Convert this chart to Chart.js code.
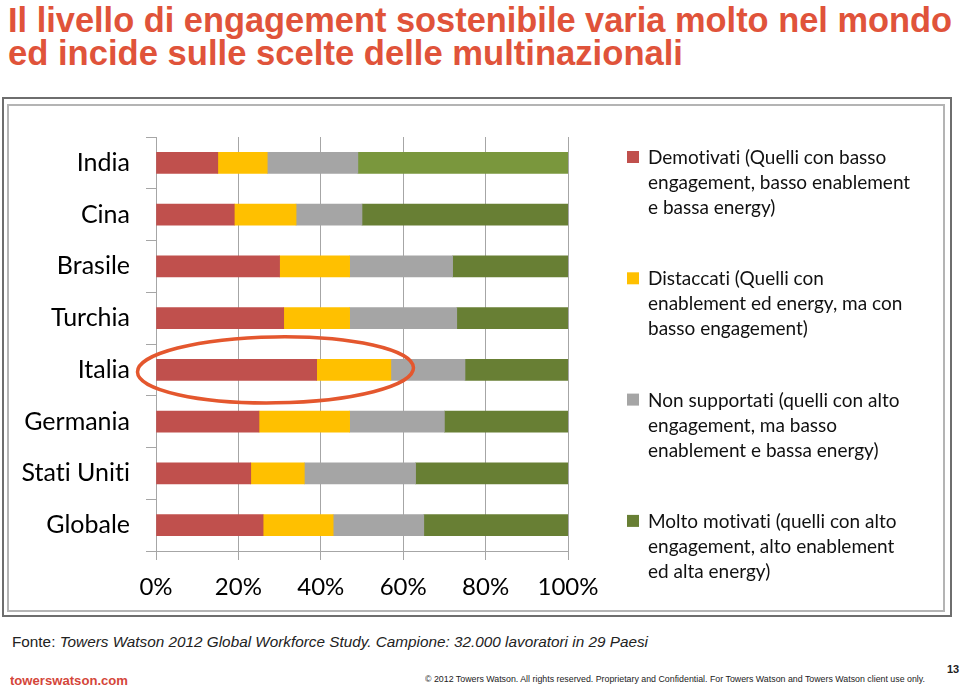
<!DOCTYPE html>
<html lang="it">
<head>
<meta charset="utf-8">
<title>Engagement sostenibile</title>
<script src="https://cdn.jsdelivr.net/npm/chart.js@4.4.1/dist/chart.umd.min.js"></script>
<style>
  html, body { margin: 0; padding: 0; background: #fff; }
  body { width: 960px; height: 689px; position: relative; overflow: hidden; font-family: "Liberation Sans", Arial, sans-serif; }
  .riga { position: absolute; white-space: nowrap; line-height: 1; transform-origin: 0 0; }
  .titolo { font-weight: bold; font-size: 35px; color: #E0533A; left: 8px; }
  .box-esterno { position: absolute; left: 2px; top: 97px; width: 946px; height: 516px; border: 2px solid #6E6E6E; }
  .box-interno { position: absolute; left: 7px; top: 104px; width: 934px; height: 504px; border: 2px solid #B4B4B4; }
  #grafico { position: absolute; left: 9px; top: 106px; }
</style>
</head>
<body>
<span class="riga titolo" style="top:2px" data-w="944">Il livello di engagement sostenibile varia molto nel mondo</span>
<span class="riga titolo" style="top:35px" data-w="675">ed incide sulle scelte delle multinazionali</span>

<div class="box-esterno"></div>
<div class="box-interno"></div>
<canvas id="grafico" width="932" height="502"></canvas>

<span class="riga" style="left:12px; top:634px; font-size:15px; color:#222" data-w="636">Fonte: <i>Towers Watson 2012 Global Workforce Study. Campione: 32.000 lavoratori in 29 Paesi</i></span>
<span class="riga" style="left:10px; top:674px; font-size:13px; font-weight:bold; color:#D4463A" data-w="118">towerswatson.com</span>
<span class="riga" style="left:425px; top:674px; font-size:9.5px; color:#222" data-w="500">© 2012 Towers Watson. All rights reserved. Proprietary and Confidential. For Towers Watson and Towers Watson client use only.</span>
<span class="riga" style="left:947px; top:664px; font-size:11px; font-weight:bold; color:#222">13</span>

<script>
// dati (percentuali)
const categorie = ['India', 'Cina', 'Brasile', 'Turchia', 'Italia', 'Germania', 'Stati Uniti', 'Globale'];
const demotivati = [15, 19, 30, 31, 39, 25, 23, 26];
const distaccati = [12, 15, 17, 16, 18, 22, 13, 17];
const nonSupportati = [22, 16, 25, 26, 18, 23, 27, 22];
const moltoMotivati = [51, 50, 28, 27, 25, 30, 37, 35];
const tickAsseX = [0, 20, 40, 60, 80, 100];

// testi della legenda, già spezzati in righe
const legendaRighe = [
  ['Demotivati (Quelli con basso', 'engagement, basso enablement', 'e bassa energy)'],
  ['Distaccati (Quelli con', 'enablement ed energy, ma con', 'basso engagement)'],
  ['Non supportati (quelli con alto', 'engagement, ma basso', 'enablement e bassa energy)'],
  ['Molto motivati (quelli con alto', 'engagement, alto enablement', 'ed alta energy)']
];

// adatta la larghezza dei testi html (font più stretto nell'originale)
document.querySelectorAll('[data-w]').forEach(el => {
  const w = el.getBoundingClientRect().width;
  el.style.transform = 'scaleX(' + (el.dataset.w / w) + ')';
});

const FONT = 'Lato, "Open Sans", sans-serif';

// niente legature "ti" di Lato
const testoPlugin = {
  id: 'senzaLegature',
  beforeDraw(chart) {
    chart.ctx.textRendering = 'optimizeSpeed';
  }
};

// legenda a destra, disegnata a mano perché le voci vanno su più righe
const legendaPlugin = {
  id: 'legendaMultiriga',
  afterDraw(chart) {
    const ctx = chart.ctx;
    const x0 = chart.chartArea.right + 59;
    ctx.save();
    ctx.textRendering = 'optimizeSpeed';
    ctx.font = '19px ' + FONT;
    ctx.textBaseline = 'alphabetic';
    chart.data.datasets.forEach((ds, i) => {
      const base = 58 + i * 121.3;
      ctx.fillStyle = ds.legendColor;
      ctx.fillRect(x0, base - 13, 12, 12);
      ctx.fillStyle = '#111';
      legendaRighe[i].forEach((r, j) => ctx.fillText(r, x0 + 21, base + j * 25));
    });
    ctx.restore();
  }
};

// ellisse rossa attorno all'Italia
const cerchioPlugin = {
  id: 'cerchioItalia',
  afterDatasetsDraw(chart) {
    const { x, y } = chart.scales;
    const ctx = chart.ctx;
    const cy = y.getPixelForValue(categorie.indexOf('Italia'));
    const cx = x.getPixelForValue(29);
    ctx.save();
    ctx.strokeStyle = '#E4572E';
    ctx.lineWidth = 3.5;
    ctx.beginPath();
    ctx.ellipse(cx, cy, 138, 33, -0.015, 0, Math.PI * 2);
    ctx.stroke();
    ctx.restore();
  }
};

const serie = [
  { label: legendaRighe[0].join(' '), data: demotivati, backgroundColor: '#C0504D' },
  { label: legendaRighe[1].join(' '), data: distaccati, backgroundColor: '#FFC000' },
  { label: legendaRighe[2].join(' '), data: nonSupportati, backgroundColor: '#A5A5A5' },
  { label: legendaRighe[3].join(' '), data: moltoMotivati,
    backgroundColor: c => c.dataIndex === 0 ? '#7A973D' : '#687F34' }
];
serie.forEach((s, i) => {
  s.barThickness = 21;
  s.borderWidth = 0;
  s.legendColor = i === 3 ? '#687F34' : s.backgroundColor;
});

new Chart(document.getElementById('grafico'), {
  type: 'bar',
  data: { labels: categorie, datasets: serie },
  options: {
    indexAxis: 'y',
    responsive: false,
    animation: false,
    layout: { padding: { top: 13, right: 373, left: 0, bottom: 0 } },
    plugins: {
      legend: { display: false },
      tooltip: { enabled: false }
    },
    scales: {
      x: {
        stacked: true,
        min: 0,
        max: 100,
        afterBuildTicks: s => { s.ticks = tickAsseX.map(v => ({ value: v })); },
        ticks: {
          callback: v => v + '%',
          color: '#000',
          font: { family: FONT, size: 24 },
          padding: 13,
          maxRotation: 0
        },
        grid: { color: '#A6A6A6', tickLength: 9 },
        border: { color: '#A6A6A6' },
        afterFit: s => { s.height = 57; }
      },
      y: {
        stacked: true,
        ticks: {
          color: '#000',
          font: { family: FONT, size: 25 },
          padding: 16
        },
        grid: { drawOnChartArea: false, tickLength: 10, color: '#A6A6A6', offset: true },
        border: { color: '#A6A6A6' },
        afterFit: s => { s.width = 147; }
      }
    }
  },
  plugins: [testoPlugin, legendaPlugin, cerchioPlugin]
});
</script>
</body>
</html>
